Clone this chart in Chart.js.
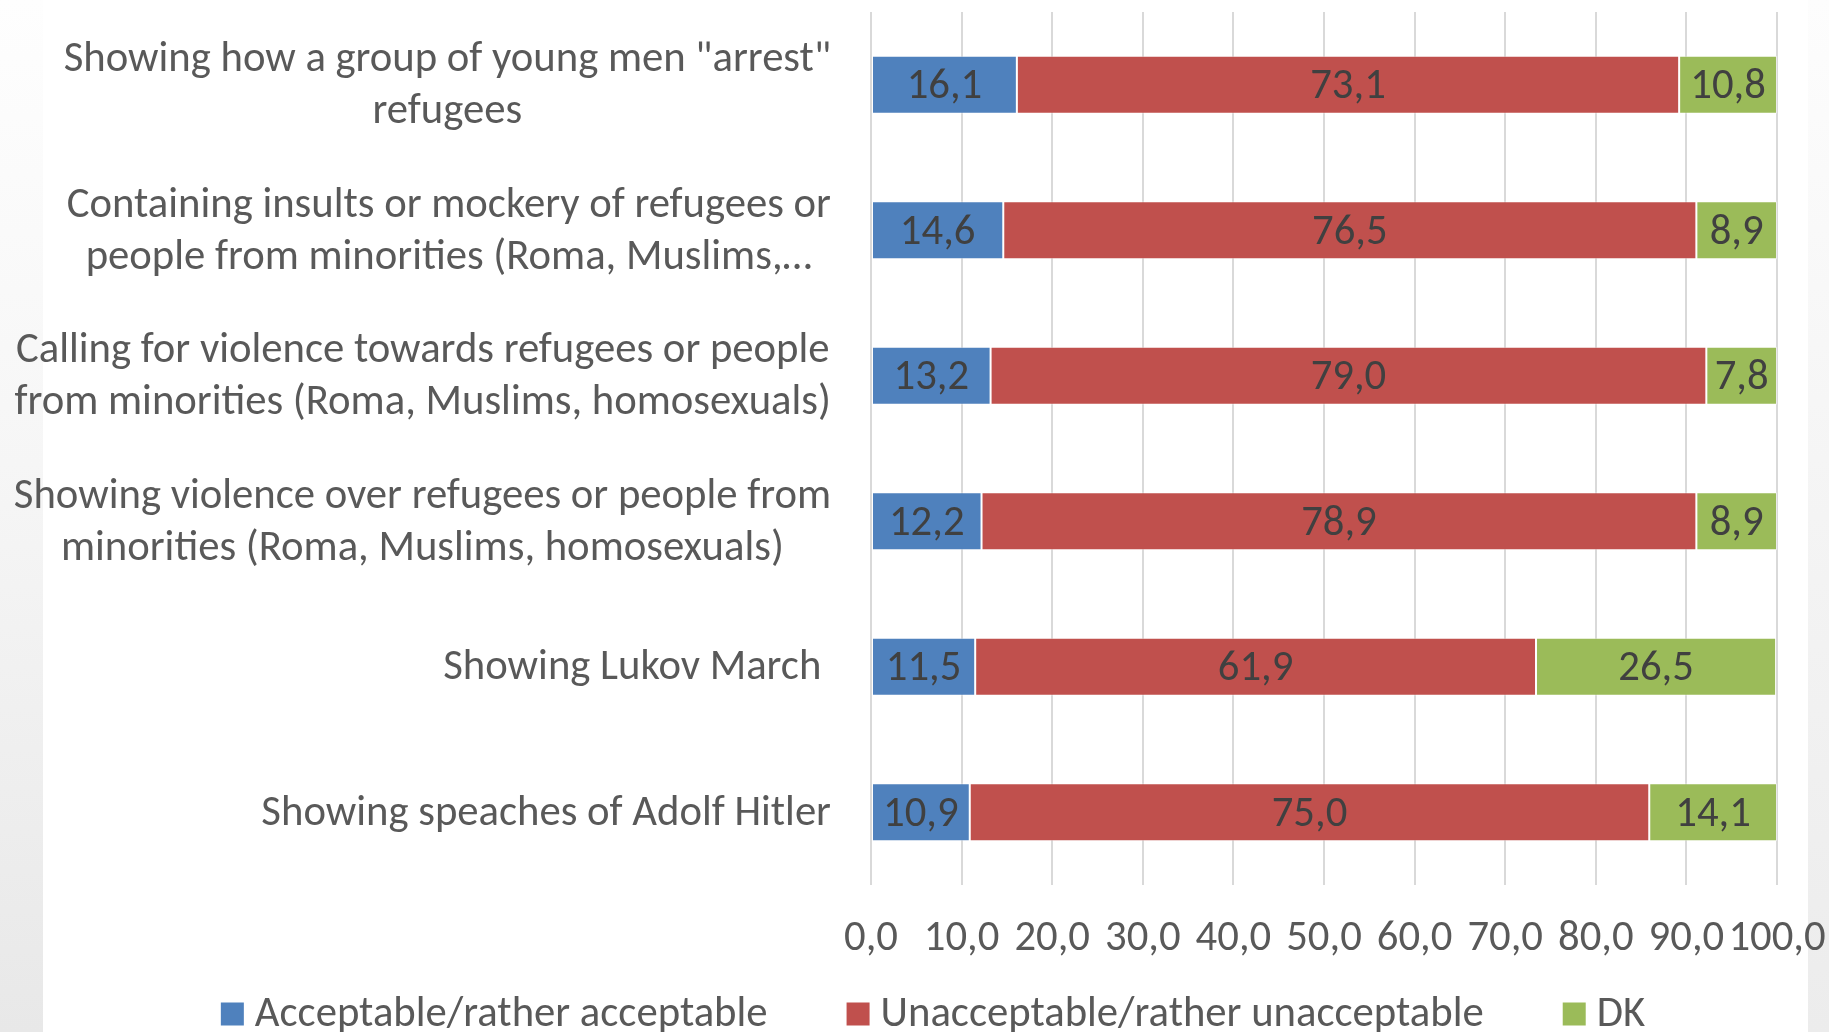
<!DOCTYPE html>
<html>
<head>
<meta charset="utf-8">
<script src="https://cdn.jsdelivr.net/npm/chart.js@4.4.1/dist/chart.umd.min.js"></script>
<style>
  html, body { margin: 0; padding: 0; background: #ffffff; }
  #wrap { position: relative; width: 1829px; height: 1032px; overflow: hidden; }
  #edgeL { position: absolute; left: 0; top: 0; width: 43px; height: 1032px;
           background: linear-gradient(to bottom, #fefefe 0%, #f6f6f6 45%, #e8e8e8 100%); }
  #edgeR { position: absolute; left: 1808px; top: 0; width: 21px; height: 1032px;
           background: linear-gradient(to bottom, #fdfdfd 0%, #f4f4f4 50%, #ececec 100%); }
  canvas { position: absolute; left: 0; top: 0; }
</style>
</head>
<body>
<div id="wrap">
  <div id="edgeL"></div>
  <div id="edgeR"></div>
  <canvas id="c" width="1829" height="1032"></canvas>
</div>
<script>
// Survey items (top to bottom); multi-line entries are wrapped labels
const categories = [
  ['Showing how a group of young men "arrest"', 'refugees'],
  ['Containing insults or mockery of refugees or', 'people from minorities (Roma, Muslims,\u2026'],
  ['Calling for violence towards refugees or people', 'from minorities (Roma, Muslims, homosexuals)'],
  ['Showing violence over refugees or people from', 'minorities (Roma, Muslims, homosexuals)'],
  ['Showing Lukov March '],
  ['Showing speaches of Adolf Hitler']
];

const seriesNames = ['Acceptable/rather acceptable', 'Unacceptable/rather unacceptable', 'DK'];
const acceptable   = [16.1, 14.6, 13.2, 12.2, 11.5, 10.9];
const unacceptable = [73.1, 76.5, 79.0, 78.9, 61.9, 75.0];
const dontKnow     = [10.8,  8.9,  7.8,  8.9, 26.5, 14.1];
const seriesColors = ['#4F81BD', '#C0504D', '#9BBB59'];

const xTicks = [0, 10, 20, 30, 40, 50, 60, 70, 80, 90, 100];

const FONT = 'Carlito, Calibri, Lato, "Open Sans", sans-serif';
const SIZE = 42.7;
const fmt = v => v.toFixed(1).replace('.', ',');

// Wrapped category labels: block right-aligned to the axis, lines centred inside the block
const categoryLabels = {
  id: 'categoryLabels',
  afterDraw(chart) {
    const ctx = chart.ctx;
    const y = chart.scales.y;
    const rightEdge = chart.chartArea.left - 40;
    const lineH = 52;
    ctx.save();
    ctx.font = SIZE + 'px ' + FONT;
    ctx.fillStyle = '#595959';
    ctx.textAlign = 'center';
    ctx.textBaseline = 'middle';
    categories.forEach((lines, i) => {
      const cy = y.getPixelForValue(i) + 2;
      const w = Math.max(...lines.map(l => ctx.measureText(l).width));
      const cx = rightEdge - w / 2;
      lines.forEach((l, j) => {
        ctx.fillText(l, cx, cy + (j - (lines.length - 1) / 2) * lineH);
      });
    });
    ctx.restore();
  }
};

// Value labels centred in each bar segment
const valueLabels = {
  id: 'valueLabels',
  afterDatasetsDraw(chart) {
    const ctx = chart.ctx;
    ctx.save();
    ctx.font = SIZE + 'px ' + FONT;
    ctx.fillStyle = '#404040';
    ctx.textAlign = 'center';
    ctx.textBaseline = 'middle';
    chart.data.datasets.forEach((ds, di) => {
      chart.getDatasetMeta(di).data.forEach((bar, i) => {
        ctx.fillText(fmt(ds.data[i]), (bar.x + bar.base) / 2, bar.y + 3);
      });
    });
    ctx.restore();
  }
};

// Legend row under the axis
const bottomLegend = {
  id: 'bottomLegend',
  afterDraw(chart) {
    const ctx = chart.ctx;
    const box = 23, gapText = 11, gapItem = 79, cy = 1014;
    ctx.save();
    ctx.font = SIZE + 'px ' + FONT;
    ctx.textBaseline = 'middle';
    ctx.textAlign = 'left';
    const widths = seriesNames.map(n => box + gapText + ctx.measureText(n).width);
    const total = widths.reduce((a, b) => a + b, 0) + gapItem * (seriesNames.length - 1);
    let x = 933 - total / 2;
    seriesNames.forEach((n, i) => {
      ctx.fillStyle = seriesColors[i];
      ctx.fillRect(x, cy - box / 2, box, box);
      ctx.fillStyle = '#595959';
      ctx.fillText(n, x + box + gapText, cy + 1);
      x += widths[i] + gapItem;
    });
    ctx.restore();
  }
};

const makeSet = (label, data, color) => ({
  label, data,
  backgroundColor: color,
  borderColor: 'rgba(255,255,255,0.45)',
  borderWidth: 1,
  borderSkipped: false,
  barPercentage: 0.4,
  categoryPercentage: 1.0
});

new Chart(document.getElementById('c'), {
  type: 'bar',
  data: {
    labels: categories.map(c => c.join(' ')),
    datasets: [
      makeSet(seriesNames[0], acceptable, seriesColors[0]),
      makeSet(seriesNames[1], unacceptable, seriesColors[1]),
      makeSet(seriesNames[2], dontKnow, seriesColors[2])
    ]
  },
  options: {
    indexAxis: 'y',
    responsive: false,
    animation: false,
    devicePixelRatio: 1,
    layout: { padding: { left: 0, right: 52, top: 12, bottom: 67 } },
    plugins: { legend: { display: false }, tooltip: { enabled: false } },
    scales: {
      x: {
        stacked: true,
        min: 0, max: 100,
        afterBuildTicks: s => { s.ticks = xTicks.map(v => ({ value: v })); },
        afterFit: s => { s.height = 80; s.paddingLeft = 0; s.paddingRight = 0; },
        grid: { color: '#d9d9d9', lineWidth: 2, drawTicks: false },
        border: { display: false },
        ticks: {
          padding: 29,
          color: '#595959',
          font: { size: SIZE, family: FONT },
          maxRotation: 0,
          autoSkip: false,
          callback: v => fmt(v)
        }
      },
      y: {
        stacked: true,
        afterFit: s => { s.width = 871; },
        grid: { display: false },
        border: { display: false },
        ticks: { display: false }
      }
    }
  },
  plugins: [categoryLabels, valueLabels, bottomLegend]
});
</script>
</body>
</html>
